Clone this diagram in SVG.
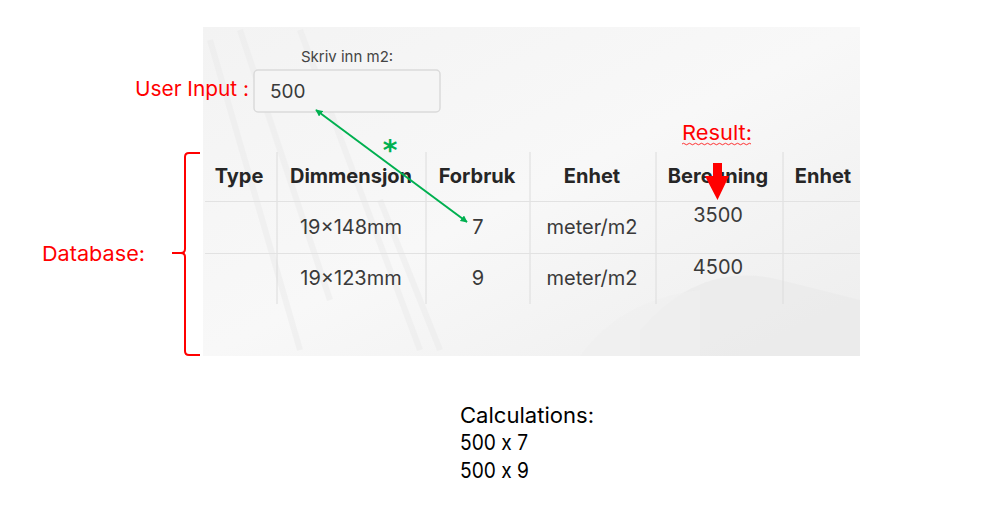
<svg xmlns="http://www.w3.org/2000/svg" width="997" height="506" viewBox="0 0 997 506">
  <defs>
    <linearGradient id="bg" x1="0" y1="0" x2="1" y2="1">
      <stop offset="0" stop-color="#f3f3f3"/>
      <stop offset="0.5" stop-color="#f8f8f8"/>
      <stop offset="1" stop-color="#ededed"/>
    </linearGradient>
    <marker id="gArrow" viewBox="0 0 10 10" refX="9" refY="5" markerWidth="7" markerHeight="7" orient="auto-start-reverse" markerUnits="userSpaceOnUse">
      <path d="M0,0 L10,5 L0,10 z" fill="#00b050"/>
    </marker>
    <style>
      .hdr { font-family: Inter, "Liberation Sans", sans-serif; font-weight: 700; font-size: 20px; fill: #262626; text-anchor: middle; }
      .cell { font-family: Inter, "Liberation Sans", sans-serif; font-size: 20px; fill: #3a3a3a; text-anchor: middle; }
      .ann { font-family: Inter, "Liberation Sans", sans-serif; font-size: 20.5px; fill: #ff0000; }
      .calc { font-family: Inter, "Liberation Sans", sans-serif; font-size: 21.5px; fill: #000; font-feature-settings: "calt" 0; }
      .vline { stroke: #dcdcdc; stroke-width: 1; }
      .hline { stroke: #e2e2e2; stroke-width: 1; }
    </style>
  </defs>

  <rect width="997" height="506" fill="#ffffff"/>

  <g id="background">
    <rect x="203" y="27" width="657" height="329" fill="url(#bg)"/>
    <g stroke="#e8e8e8" stroke-width="6" opacity="0.4" fill="none">
      <path d="M210,40 L300,350"/>
      <path d="M240,30 L330,300"/>
      <path d="M300,30 L420,350"/>
      <path d="M380,200 L440,350"/>
    </g>
    <path d="M640,330 Q700,260 780,280 L860,300 L860,356 L640,356 z" fill="#eaeaea" opacity="0.7"/>
    <path d="M580,356 Q620,300 700,290 L700,356 z" fill="#efefef" opacity="0.7"/>
  </g>

  <g id="input">
    <text x="347" y="62" text-anchor="middle" font-family="Inter, 'Liberation Sans', sans-serif" font-size="15" fill="#444">Skriv inn m2:</text>
    <rect x="254" y="70" width="186" height="42" rx="4" fill="#f5f5f5" stroke="#dadada" stroke-width="1.5"/>
    <text x="270" y="98" font-family="Inter, 'Liberation Sans', sans-serif" font-size="19" fill="#3a3a3a">500</text>
  </g>

  <g id="table">
    <line class="vline" x1="277" y1="152" x2="277" y2="304"/>
    <line class="vline" x1="426" y1="152" x2="426" y2="304"/>
    <line class="vline" x1="530" y1="152" x2="530" y2="304"/>
    <line class="vline" x1="656" y1="152" x2="656" y2="304"/>
    <line class="vline" x1="783" y1="152" x2="783" y2="304"/>
    <line class="hline" x1="205" y1="201.5" x2="860" y2="201.5"/>
    <line class="hline" x1="205" y1="253.5" x2="860" y2="253.5"/>
    <text class="hdr" x="239" y="183">Type</text>
    <text class="hdr" x="351" y="183">Dimmensjon</text>
    <text class="hdr" x="477" y="183">Forbruk</text>
    <text class="hdr" x="592" y="183">Enhet</text>
    <text class="hdr" x="718" y="183">Beregning</text>
    <text class="hdr" x="823" y="183">Enhet</text>
    <text class="cell" x="351" y="234">19×148mm</text>
    <text class="cell" x="478" y="234">7</text>
    <text class="cell" x="592" y="234">meter/m2</text>
    <text class="cell" x="718" y="222">3500</text>
    <text class="cell" x="351" y="285">19×123mm</text>
    <text class="cell" x="478" y="285">9</text>
    <text class="cell" x="592" y="285">meter/m2</text>
    <text class="cell" x="718" y="274">4500</text>
  </g>

  <g id="labels">
    <text class="ann" x="135" y="96" textLength="114" lengthAdjust="spacingAndGlyphs">User Input :</text>
    <text class="ann" x="42" y="261" textLength="103" lengthAdjust="spacingAndGlyphs">Database:</text>
    <text class="ann" x="682" y="140" textLength="70" lengthAdjust="spacingAndGlyphs">Result:</text>
    <path d="M682,144 q1.5,-1.5 3,0 t3,0 t3,0 t3,0 t3,0 t3,0 t3,0 t3,0 t3,0 t3,0 t3,0 t3,0 t3,0 t3,0 t3,0 t3,0 t3,0 t3,0 t3,0 t3,0 t3,0 t3,0 t3,0" fill="none" stroke="#ff0000" stroke-width="0.8"/>
  </g>

  <g id="brace">
    <path d="M200,153 L189,153 Q185,153 185,157 L185,249 Q185,253 181,253 L172,253 M181,253 Q185,253 185,257 L185,351 Q185,355 189,355 L200,355" fill="none" stroke="#ff0000" stroke-width="2"/>
  </g>

  <g id="calculations">
    <text class="calc" x="460" y="423" textLength="134" lengthAdjust="spacingAndGlyphs">Calculations:</text>
    <text class="calc" x="460" y="450" textLength="68" lengthAdjust="spacingAndGlyphs">500 x 7</text>
    <text class="calc" x="460" y="478" textLength="69" lengthAdjust="spacingAndGlyphs">500 x 9</text>
  </g>

  <g id="connectors">
    <line x1="316" y1="110" x2="467" y2="222" stroke="#00b050" stroke-width="2" marker-start="url(#gArrow)" marker-end="url(#gArrow)"/>
    <text x="390" y="160" text-anchor="middle" font-family="'DejaVu Sans', sans-serif" font-weight="bold" font-size="28" fill="#00b050">*</text>
    <path d="M713,163 L722,163 L722,176 L729,176 L717.5,200 L705,176 L713,176 z" fill="#ff0000"/>
  </g>
</svg>
